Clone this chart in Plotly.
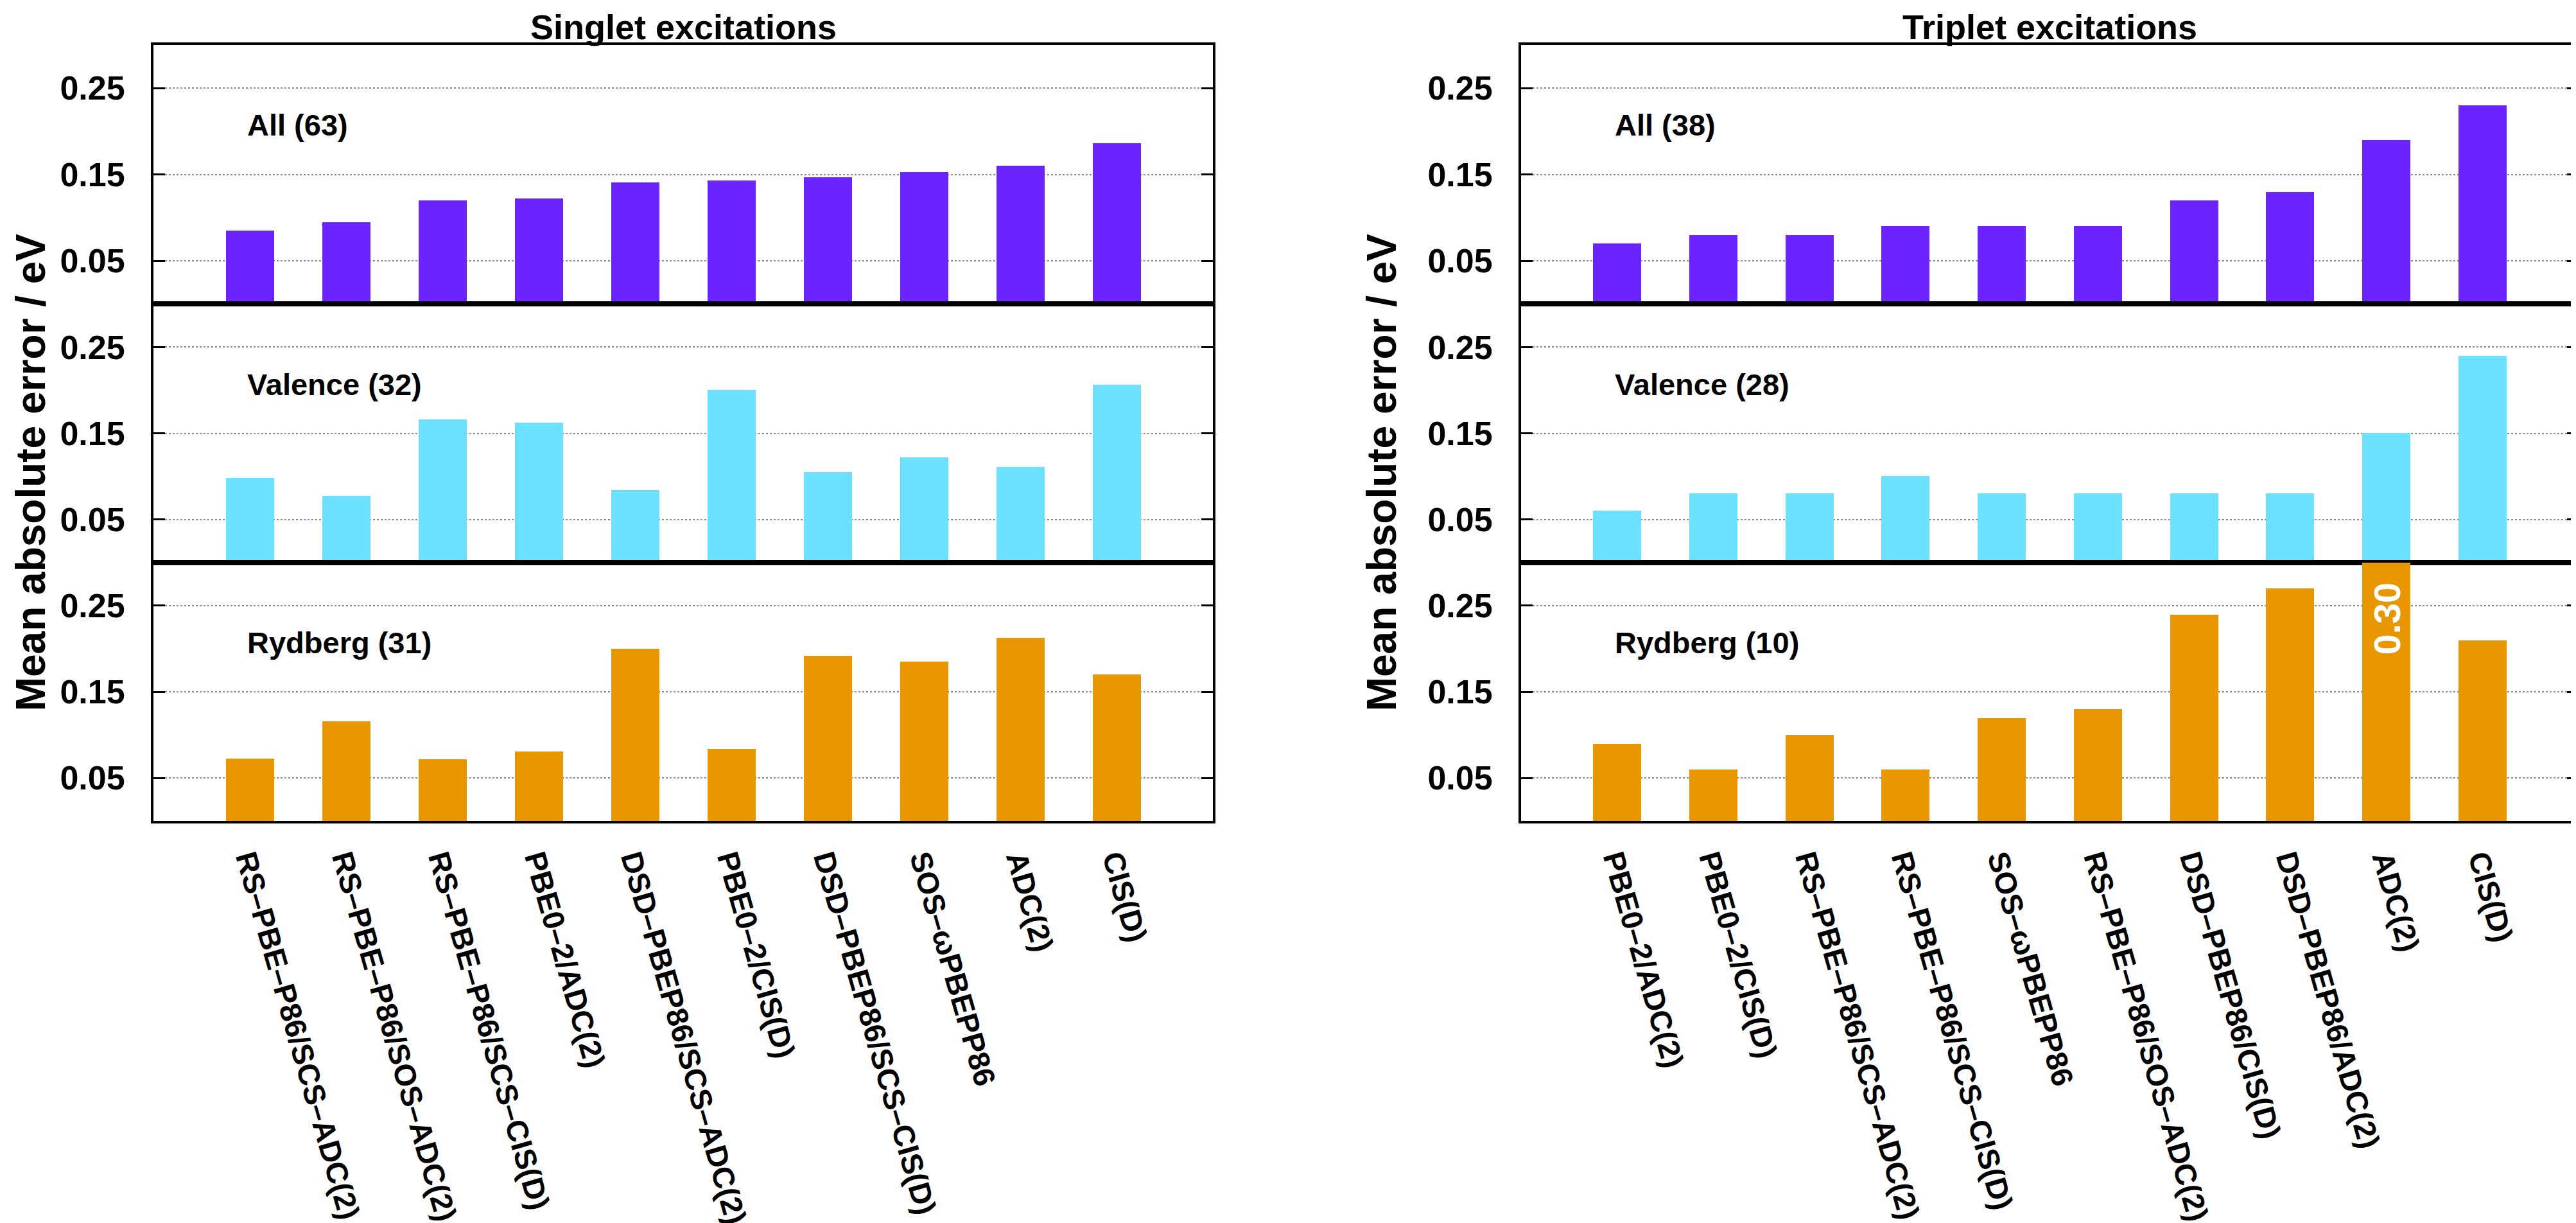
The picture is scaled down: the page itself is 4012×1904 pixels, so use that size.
import plotly.graph_objects as go

W, H = 4012, 1904

singlet_methods = [
    "RS–PBE–P86/SCS–ADC(2)", "RS–PBE–P86/SOS–ADC(2)", "RS–PBE–P86/SCS–CIS(D)",
    "PBE0–2/ADC(2)", "DSD–PBEP86/SCS–ADC(2)", "PBE0–2/CIS(D)",
    "DSD–PBEP86/SCS–CIS(D)", "SOS–ωPBEPP86", "ADC(2)", "CIS(D)",
]
triplet_methods = [
    "PBE0–2/ADC(2)", "PBE0–2/CIS(D)", "RS–PBE–P86/SCS–ADC(2)",
    "RS–PBE–P86/SCS–CIS(D)", "SOS–ωPBEPP86", "RS–PBE–P86/SOS–ADC(2)",
    "DSD–PBEP86/CIS(D)", "DSD–PBEP86/ADC(2)", "ADC(2)", "CIS(D)",
]

singlet_all = [0.085, 0.095, 0.120, 0.122, 0.141, 0.143, 0.147, 0.153, 0.160, 0.186]
singlet_valence = [0.098, 0.077, 0.166, 0.162, 0.084, 0.200, 0.105, 0.122, 0.111, 0.206]
singlet_rydberg = [0.073, 0.116, 0.072, 0.081, 0.200, 0.084, 0.192, 0.185, 0.213, 0.170]

triplet_all = [0.07, 0.08, 0.08, 0.09, 0.09, 0.09, 0.12, 0.13, 0.19, 0.23]
triplet_valence = [0.06, 0.08, 0.08, 0.10, 0.08, 0.08, 0.08, 0.08, 0.15, 0.24]
triplet_rydberg = [0.09, 0.06, 0.10, 0.06, 0.12, 0.13, 0.24, 0.27, 0.30, 0.21]

panel_labels_singlet = ["All (63)", "Valence (32)", "Rydberg (31)"]
panel_labels_triplet = ["All (38)", "Valence (28)", "Rydberg (10)"]
column_titles = ["Singlet excitations", "Triplet excitations"]
y_tick_vals = [0.05, 0.15, 0.25]
y_tick_text = ["0.05", "0.15", "0.25"]
y_title = "Mean absolute error / eV"
clipped_label = "0.30"

colors = ["#6B24FF", "#6CE0FF", "#E89700"]
FONT = "Liberation Sans"

x_doms = [[231 / W, 1881 / W], [2361 / W, 4008 / W]]
y_px = [(62, 467), (467, 871), (871, 1275)]
y_doms = [[1 - b / H, 1 - t / H] for (t, b) in y_px]

fig = go.Figure()
layout = {}
annotations = []

columns = [
    (singlet_methods, [singlet_all, singlet_valence, singlet_rydberg], panel_labels_singlet),
    (triplet_methods, [triplet_all, triplet_valence, triplet_rydberg], panel_labels_triplet),
]

for c, (methods, series, labels) in enumerate(columns):
    for r in range(3):
        k = c * 3 + r + 1
        xa = "x" if k == 1 else f"x{k}"
        ya = "y" if k == 1 else f"y{k}"
        xs = list(range(len(methods)))
        fig.add_trace(go.Bar(
            x=xs, y=series[r], xaxis=xa, yaxis=ya, width=0.5,
            marker=dict(color=colors[r], line=dict(width=0)),
            showlegend=False, cliponaxis=True,
        ))
        layout["xaxis" if k == 1 else f"xaxis{k}"] = dict(
            domain=x_doms[c], anchor=ya, range=[-1, 10],
            tickvals=xs, ticktext=methods,
            showticklabels=(r == 2), tickangle=74,
            tickfont=dict(family=FONT, size=47, color="black", weight="bold"),
            ticks="", showgrid=False, zeroline=False,
            showline=True, linecolor="black", linewidth=4, mirror=True,
            ticklabelstandoff=10,
        )
        layout["yaxis" if k == 1 else f"yaxis{k}"] = dict(
            domain=y_doms[r], anchor=xa, range=[0, 0.3],
            tickvals=y_tick_vals, ticktext=y_tick_text,
            ticks="inside", ticklen=18, tickwidth=3, tickcolor="black",
            tickfont=dict(family=FONT, size=52, color="black", weight="bold"),
            showgrid=True, gridcolor="#8a8a8a", gridwidth=2, griddash="dot",
            zeroline=False, showline=True, linecolor="black", linewidth=4,
            mirror="ticks", ticklabelstandoff=30,
        )
        annotations.append(dict(
            x=-0.04, y=0.207, xref=xa, yref=ya, text=labels[r],
            showarrow=False, xanchor="left", yanchor="middle",
            font=dict(family=FONT, size=47, color="black", weight="bold"),
        ))
    # column title
    annotations.append(dict(
        x=(x_doms[c][0] + x_doms[c][1]) / 2, y=1 - 34 / H, xref="paper", yref="paper",
        text=column_titles[c], showarrow=False, xanchor="center", yanchor="middle",
        font=dict(family=FONT, size=54, color="black", weight="bold"),
    ))
    # y title
    annotations.append(dict(
        x=(40 if c == 0 else 2144) / W, y=1 - 730 / H, xref="paper", yref="paper",
        text=y_title, showarrow=False, textangle=-90, xanchor="center", yanchor="middle",
        font=dict(family=FONT, size=64, color="black", weight="bold"),
    ))

# value label inside the clipped bar
annotations.append(dict(
    x=8, y=0.235, xref="x6", yref="y6", text=clipped_label, showarrow=False,
    textangle=-90, xanchor="center", yanchor="middle",
    font=dict(family=FONT, size=58, color="white", weight="bold"),
))

fig.update_layout(
    **layout,
    annotations=annotations,
    width=W, height=H,
    margin=dict(l=0, r=0, t=0, b=0),
    paper_bgcolor="white", plot_bgcolor="white",
    bargap=0,
)

fig.write_html("out.html")
